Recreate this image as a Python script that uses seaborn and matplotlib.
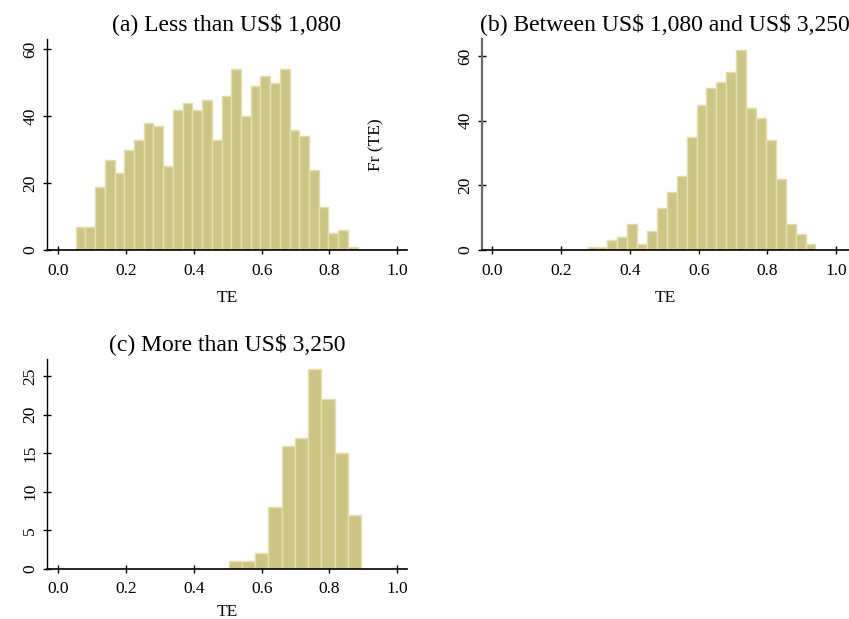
import numpy as np
import pandas as pd
import matplotlib
matplotlib.use("Agg")
import matplotlib.pyplot as plt
import seaborn as sns

# Frequency counts of technical efficiency (TE) by income group
counts_low = [7, 7, 19, 27, 23, 30, 33, 38, 37, 25, 42, 44, 42, 45, 33,
              46, 54, 40, 49, 52, 50, 54, 36, 34, 24, 13, 5, 6, 1]
counts_mid = [1, 1, 3, 4, 8, 2, 6, 13, 18, 23, 35, 45, 50, 52, 55, 62,
              44, 41, 34, 22, 8, 5, 2]
counts_high = [1, 1, 2, 8, 16, 17, 26, 22, 15, 7]

# Histogram bins (first edge and bin width) for each group
start_low, width_low = 0.051, 0.0287
start_mid, width_mid = 0.277, 0.0288
start_high, width_high = 0.503, 0.039

titles = ["(a) Less than US$ 1,080",
          "(b) Between US$ 1,080 and US$ 3,250",
          "(c) More than US$ 3,250"]
x_ticks = [0.0, 0.2, 0.4, 0.6, 0.8, 1.0]
y_ticks_low = [0, 20, 40, 60]
y_ticks_mid = [0, 20, 40, 60]
y_ticks_high = [0, 5, 10, 15, 20, 25]

sns.set_style("ticks")
plt.rcParams["font.family"] = ["Liberation Serif", "DejaVu Serif"]
plt.rcParams["text.color"] = "black"
plt.rcParams["axes.labelcolor"] = "black"
plt.rcParams["xtick.color"] = "black"
plt.rcParams["ytick.color"] = "black"

FILL = "#CCC583"
EDGE = "#E4DFB0"


def frame(counts, start, width):
    counts = np.asarray(counts, dtype=float)
    edges = start + width * np.arange(len(counts) + 1)
    centers = (edges[:-1] + edges[1:]) / 2
    return pd.DataFrame({"TE": centers, "n": counts}), [float(e) for e in edges]


fig = plt.figure(figsize=(8.49, 6.19), dpi=100)
ax_a = fig.add_axes([0.055, 0.596, 0.4244, 0.3405])
ax_b = fig.add_axes([0.5674, 0.596, 0.4326, 0.3405])
ax_c = fig.add_axes([0.055, 0.0813, 0.4244, 0.3382])

panels = [
    (ax_a, counts_low, start_low, width_low, y_ticks_low, (-0.0345, 1.029), 63.0),
    (ax_b, counts_mid, start_mid, width_mid, y_ticks_mid, (-0.031, 1.037), 65.2),
    (ax_c, counts_high, start_high, width_high, y_ticks_high, (-0.0345, 1.029), 27.2),
]

for (ax, counts, start, width, yt, xl, ytop), title in zip(panels, titles):
    df, edges = frame(counts, start, width)
    sns.histplot(data=df, x="TE", weights="n", bins=edges, ax=ax,
                 color=FILL, edgecolor=EDGE, linewidth=1.0, alpha=1.0)
    ax.set_xlim(*xl)
    ax.set_ylim(0, ytop)
    ax.set_xticks(x_ticks)
    ax.set_xticklabels([f"{t:.1f}" for t in x_ticks])
    ax.set_yticks(yt)
    ax.set_yticklabels([str(t) for t in yt], rotation=90, va="center")
    ax.tick_params(axis="both", direction="inout", length=6, width=1,
                   labelsize=12.5, color="black", labelcolor="black")
    ax.tick_params(axis="x", pad=6)
    ax.tick_params(axis="y", pad=3)
    for side in ("top", "right"):
        ax.spines[side].set_visible(False)
    ax.spines["bottom"].set_color("black")
    ax.spines["bottom"].set_linewidth(1.2)
    ax.spines["left"].set_color("black")
    ax.spines["left"].set_linewidth(1.0)
    ax.set_xlabel("TE", fontsize=12.5, labelpad=8)
    ax.set_ylabel("")
    ax.set_title(title, fontsize=17, pad=7, color="black", parse_math=False)

# keep the bottom panel's axis label inside the figure
ax_c.xaxis.labelpad = 5

ax_b.spines["left"].set_color("#6a6a6a")
ax_b.spines["left"].set_linewidth(1.6)
ax_b.set_ylabel("Fr (TE)", fontsize=12.5)
ax_b.yaxis.set_label_coords(-0.265, 0.5)

fig.savefig("out.png", dpi=100)
